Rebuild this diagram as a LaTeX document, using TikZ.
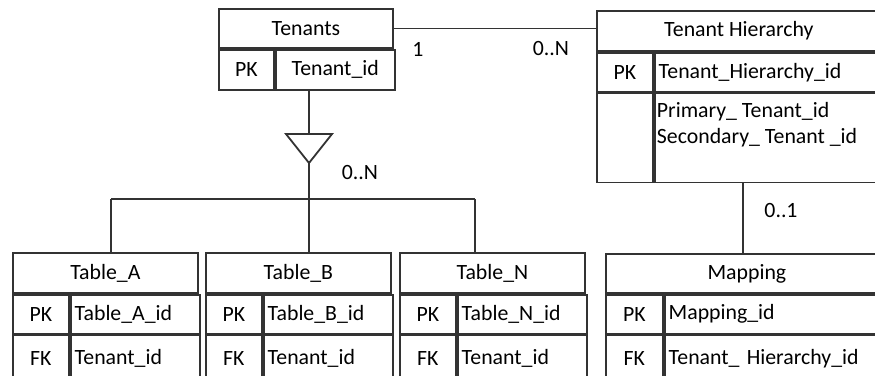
\documentclass[tikz,border=0pt]{standalone}
\usepackage{fontspec}
\setmainfont{Carlito}
\usetikzlibrary{positioning}

\begin{document}
\begin{tikzpicture}[x=1pt,y=-1pt,line width=1.8pt,
        every node/.style={font=\fontsize{21.8}{26}\selectfont},
        cell/.style={draw=black!80,inner sep=0pt,anchor=north west},
        field/.style={cell,inner xsep=4pt,align=left},
        link/.style={draw=black!80}]
    \useasboundingbox (0,0) rectangle (875,375);
    \clip (0,0) rectangle (875,375);

    \node[cell,minimum width=174pt,minimum height=39pt] (tnHead) at (218,8) {Tenants};
    \node[cell,minimum width=55pt,minimum height=40pt] (tnKey) at (tnHead.south west) {PK};
    \node[cell,minimum width=119pt,minimum height=40pt] (tnId) at (tnKey.north east) {Tenant\_id};

    \node[cell,minimum width=284pt,minimum height=40pt] (thHead) at (596,10) {Tenant Hierarchy};
    \node[cell,minimum width=56pt,minimum height=39pt] (thKey) at (thHead.south west) {PK};
    \node[field,text width=220pt,minimum height=39pt] (thId) at (thKey.north east) {Tenant\_Hierarchy\_id};
    \node[cell,minimum width=56pt,minimum height=89pt] (thBlank) at (thKey.south west) {};
    \node[cell,minimum width=228pt,minimum height=89pt] (thRest) at (thBlank.north east) {};
    \node[anchor=north west,align=left,inner sep=0pt] (thFields) at (656,101) {Primary\_ Tenant\_id\\Secondary\_ Tenant \_id};

    \node[cell,minimum width=185pt,minimum height=40pt] (aHead) at (12,252) {Table\_A};
    \node[cell,minimum width=56pt,minimum height=39pt] (aKey) at (aHead.south west) {PK};
    \node[field,text width=121pt,minimum height=39pt] (aId) at (aKey.north east) {Table\_A\_id};
    \node[cell,minimum width=56pt,minimum height=46pt] (aFk) at (aKey.south west) {FK};
    \node[field,text width=121pt,minimum height=46pt] (aRef) at (aFk.north east) {Tenant\_id};

    \node[cell,minimum width=185pt,minimum height=40pt] (bHead) at (205,252) {Table\_B};
    \node[cell,minimum width=56pt,minimum height=39pt] (bKey) at (bHead.south west) {PK};
    \node[field,text width=121pt,minimum height=39pt] (bId) at (bKey.north east) {Table\_B\_id};
    \node[cell,minimum width=56pt,minimum height=46pt] (bFk) at (bKey.south west) {FK};
    \node[field,text width=121pt,minimum height=46pt] (bRef) at (bFk.north east) {Tenant\_id};

    \node[cell,minimum width=185pt,minimum height=40pt] (nHead) at (399,252) {Table\_N};
    \node[cell,minimum width=56pt,minimum height=39pt] (nKey) at (nHead.south west) {PK};
    \node[field,text width=121pt,minimum height=39pt] (nId) at (nKey.north east) {Table\_N\_id};
    \node[cell,minimum width=56pt,minimum height=46pt] (nFk) at (nKey.south west) {FK};
    \node[field,text width=121pt,minimum height=46pt] (nRef) at (nFk.north east) {Tenant\_id};

    \node[cell,minimum width=282pt,minimum height=39pt] (mHead) at (605,253) {Mapping};
    \node[cell,minimum width=57pt,minimum height=39pt] (mKey) at (mHead.south west) {PK};
    \node[field,text width=217pt,minimum height=39pt] (mId) at (mKey.north east) {Mapping\_id};
    \node[cell,minimum width=57pt,minimum height=46pt] (mFk) at (mKey.south west) {FK};
    \node[field,text width=217pt,minimum height=46pt] (mRef) at (mFk.north east) {Tenant\_ Hierarchy\_id};

    \node (one) at (418,49) {1};
    \node (many) at (551,49) {0..N};
    \node (sub) at (360,173) {0..N};
    \node (opt) at (781,211) {0..1};

    \coordinate (triTop) at (309,134);
    \coordinate (triTip) at (309,163);
    \coordinate (bus) at (309,199);
    \coordinate (busA) at (111,199);
    \coordinate (busN) at (475,199);
    \coordinate (mapX) at (743,0);

    \draw[link] (tnHead.east) -- (tnHead.east -| thHead.west);
    \draw[link] (tnId.south -| triTop) -- (triTop);
    \draw[link] (286,134) -- (332,134) -- (triTip) -- cycle;
    \draw[link] (triTip) -- (bus);
    \draw[link] (busA) -- (busN);
    \draw[link] (busA) -- (aHead.north -| busA);
    \draw[link] (bus) -- (bHead.north -| bus);
    \draw[link] (busN) -- (nHead.north -| busN);
    \draw[link] (thRest.south -| mapX) -- (mHead.north -| mapX);
\end{tikzpicture}
\end{document}
